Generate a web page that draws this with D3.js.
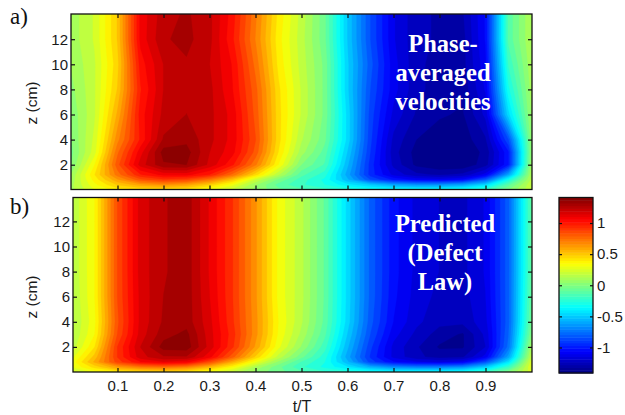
<!DOCTYPE html>
<html>
<head>
<meta charset="utf-8">
<script src="https://cdn.jsdelivr.net/npm/d3@7"></script>
<style>
html,body{margin:0;padding:0;background:#fff;}
svg{display:block;}
</style>
</head>
<body>
<div id="chart"></div>
<script>
// velocity fields, one row per z, one value per t
const tValues=[0,.05,.1,.15,.2,.25,.3,.35,.4,.45,.5,.55,.6,.65,.7,.75,.8,.85,.9,.95,1];
const zValues=[0,.4,.8,1.2,2,3,4,6,8,10,12,14];

const measured=[
  [.12,.28,.38,.42,.43,.40,.30,.18,.05,-.05,-.12,-.18,-.25,-.30,-.33,-.33,-.33,-.30,-.20,0,.20],
  [.12,.33,.50,.60,.65,.60,.48,.30,.08,-.10,-.20,-.28,-.40,-.50,-.60,-.65,-.65,-.60,-.45,-.10,.20],
  [.10,.38,.62,.82,.90,.86,.72,.50,.20,-.02,-.18,-.30,-.55,-.85,-1.0,-1.08,-1.10,-1.05,-.80,-.30,.16],
  [.08,.42,.74,.98,1.08,1.08,.98,.75,.45,.15,-.12,-.25,-.60,-.95,-1.15,-1.25,-1.28,-1.25,-1.10,-.60,.13],
  [0,.35,.82,1.16,1.33,1.34,1.18,1.0,.72,.35,0,-.15,-.55,-.95,-1.22,-1.36,-1.40,-1.40,-1.30,-1.0,.08],
  [-.02,.25,.76,1.10,1.37,1.37,1.20,1.08,.82,.42,.10,-.10,-.50,-.92,-1.24,-1.37,-1.40,-1.40,-1.32,-1.0,.05],
  [0,.23,.68,1.0,1.28,1.32,1.22,1.10,.85,.45,.15,-.05,-.45,-.90,-1.22,-1.34,-1.38,-1.38,-1.28,-.85,.05],
  [.02,.20,.58,1.02,1.22,1.27,1.22,1.10,.82,.45,.20,-.02,-.45,-.88,-1.15,-1.28,-1.33,-1.35,-1.18,-.45,.08],
  [.05,.20,.50,.98,1.20,1.25,1.22,1.06,.80,.44,.20,-.02,-.48,-.85,-1.10,-1.25,-1.30,-1.32,-1.12,-.30,.10],
  [.08,.20,.47,1.02,1.20,1.26,1.20,1.05,.75,.40,.18,-.02,-.48,-.82,-1.10,-1.25,-1.30,-1.30,-1.08,-.20,.12],
  [.10,.22,.50,1.08,1.26,1.29,1.22,1.0,.70,.38,.17,-.05,-.50,-.85,-1.12,-1.25,-1.28,-1.30,-1.05,-.12,.14],
  [.10,.22,.50,1.08,1.24,1.28,1.22,1.02,.72,.40,.18,-.05,-.50,-.85,-1.12,-1.25,-1.28,-1.28,-1.05,-.12,.14]
];

const predicted=[
  [.20,.30,.38,.42,.43,.40,.30,.18,.05,-.05,-.12,-.20,-.25,-.30,-.33,-.33,-.33,-.30,-.20,0,.25],
  [.28,.45,.62,.72,.75,.70,.55,.35,.12,-.05,-.20,-.30,-.42,-.58,-.68,-.72,-.72,-.68,-.50,-.20,.28],
  [.30,.58,.88,1.05,1.12,1.08,.85,.58,.30,.05,-.15,-.28,-.55,-.88,-1.05,-1.12,-1.15,-1.10,-.85,-.42,.25],
  [.25,.52,.92,1.17,1.26,1.26,1.08,.80,.48,.18,-.05,-.25,-.60,-.93,-1.15,-1.25,-1.30,-1.28,-1.10,-.60,.18],
  [.16,.42,.92,1.20,1.37,1.38,1.17,.93,.62,.30,.06,-.18,-.55,-.90,-1.15,-1.26,-1.35,-1.35,-1.20,-.75,.10],
  [.13,.35,.85,1.16,1.31,1.36,1.16,.95,.66,.34,.12,-.12,-.50,-.85,-1.10,-1.22,-1.30,-1.35,-1.18,-.78,0],
  [.12,.33,.83,1.15,1.28,1.31,1.15,.93,.66,.35,.15,-.09,-.46,-.82,-1.06,-1.18,-1.25,-1.25,-1.15,-.80,-.05],
  [.13,.35,.85,1.15,1.27,1.31,1.13,.92,.65,.33,.16,-.08,-.45,-.80,-1.04,-1.16,-1.22,-1.23,-1.13,-.80,-.08],
  [.14,.35,.85,1.16,1.26,1.31,1.12,.92,.65,.33,.16,-.08,-.45,-.80,-1.03,-1.15,-1.20,-1.22,-1.12,-.80,-.10],
  [.14,.35,.85,1.16,1.26,1.31,1.12,.92,.65,.33,.16,-.08,-.45,-.80,-1.03,-1.15,-1.20,-1.22,-1.12,-.80,-.10],
  [.14,.35,.85,1.16,1.26,1.31,1.12,.92,.65,.33,.16,-.08,-.45,-.80,-1.03,-1.15,-1.20,-1.22,-1.12,-.80,-.10],
  [.14,.35,.85,1.16,1.26,1.31,1.12,.92,.65,.33,.16,-.08,-.45,-.80,-1.03,-1.15,-1.20,-1.22,-1.12,-.80,-.10]
];

const tTicks=[.1,.2,.3,.4,.5,.6,.7,.8,.9];
const zTicks=[2,4,6,8,10,12];
const barTicks=[-1,-.5,0,.5,1];
const measuredLabel=["Phase-","averaged","velocities"];
const predictedLabel=["Predicted","(Defect","Law)"];

const sans="'Liberation Sans', Arial, sans-serif";
const serif="'Liberation Serif', 'Times New Roman', serif";
const W=625,H=415;
const vMin=-1.41,vMax=1.41;

// jet
const span=vMax-vMin;
const jet=d3.scaleLinear()
  .domain([0,.125,.375,.625,.875,1].map(s=>vMin+s*span))
  .range(["#00007f","#0000ff","#00ffff","#ffff00","#ff0000","#7f0000"])
  .clamp(true);

const svg=d3.select("#chart").append("svg")
  .attr("width",W).attr("height",H).attr("viewBox",`0 0 ${W} ${H}`);
const defs=svg.append("defs");

const x=d3.scaleLinear().domain([0,1]).range([71.5,531.5]);

function drawPanel(id,rows,box,zBase,opts){
  const y=d3.scaleLinear().domain([0,2]).range([zBase,zBase-25.1]);

  defs.append("clipPath").attr("id","clip-"+id).append("rect")
    .attr("x",box.left).attr("y",box.top)
    .attr("width",box.right-box.left).attr("height",box.bottom-box.top);

  // grid index -> plot position, grid point i sits at i+.5 in d3.contours
  const ix=d3.scaleLinear().domain(tValues.map((d,i)=>i+.5)).range(tValues.map(d=>x(d)));
  const iy=d3.scaleLinear().domain(zValues.map((d,i)=>i+.5)).range(zValues.map(d=>y(d)));
  const path=d3.geoPath(d3.geoTransform({
    point(a,b){this.stream.point(ix(a),iy(b));}
  }));

  const levels=d3.range(0,40).map(i=>vMin+i*span/40);
  const bands=d3.contours().size([tValues.length,zValues.length]).smooth(true)
    .thresholds(levels)(rows.flat());

  const field=svg.append("g").attr("clip-path",`url(#clip-${id})`)
    .append("g").style("filter","blur(0.45px)");
  field.append("rect")
    .attr("x",box.left-2).attr("y",box.top-2)
    .attr("width",box.right-box.left+4).attr("height",box.bottom-box.top+4)
    .attr("fill",jet(vMin));
  field.selectAll("path").data(bands).join("path")
    .attr("d",path)
    .attr("fill",d=>jet(d.value+span/80))
    .attr("stroke",d=>jet(d.value+span/80))
    .attr("stroke-width",.3);

  // frame and inward ticks on all four sides
  const sides=[
    {gen:d3.axisLeft(y).tickValues(zTicks).tickFormat(d=>String(d)),pos:`translate(${box.left},0)`,pad:3},
    {gen:d3.axisRight(y).tickValues(zTicks).tickFormat(""),pos:`translate(${box.right},0)`,pad:3},
    {gen:d3.axisTop(x).tickValues(tTicks).tickFormat(""),pos:`translate(0,${box.top})`,pad:3},
    {gen:d3.axisBottom(x).tickValues(tTicks).tickFormat(opts.xLabels?(d=>String(d)):""),pos:`translate(0,${box.bottom})`,pad:8}
  ];
  sides.forEach(s=>{
    svg.append("g").attr("transform",s.pos)
      .call(s.gen.tickSizeInner(-4).tickSizeOuter(0).tickPadding(s.pad))
      .call(a=>a.select(".domain").remove())
      .call(a=>a.selectAll("line").attr("stroke","#111").attr("stroke-width",1.2))
      .call(a=>a.selectAll("text").attr("fill","#1a1a1a").style("font-family",sans).style("font-size","15px"));
  });
  svg.append("rect")
    .attr("x",box.left).attr("y",box.top)
    .attr("width",box.right-box.left).attr("height",box.bottom-box.top)
    .attr("fill","none").attr("stroke","#111").attr("stroke-width",1.3);

  // z label
  svg.append("text")
    .attr("transform",`translate(37,${opts.zMid}) rotate(-90)`)
    .attr("text-anchor","middle").attr("fill","#1a1a1a")
    .style("font-family",sans).style("font-size","15.5px")
    .text("z (cm)");

  // panel letter
  svg.append("text").attr("x",10).attr("y",opts.letterY)
    .attr("fill","#111")
    .style("font-family",serif).style("font-size","23px")
    .text(opts.letter);

  // white caption in the plot
  svg.append("g").selectAll("text").data(opts.caption).join("text")
    .attr("x",opts.captionX)
    .attr("y",(d,i)=>opts.captionY+i*29)
    .attr("text-anchor","middle").attr("fill","#fff")
    .style("font-family",serif).style("font-size","24.5px").style("font-weight","700")
    .text(d=>d);
}

drawPanel("a",measured,{left:71,right:532,top:14,bottom:189.5},189.8,
  {xLabels:false,zMid:103,letter:"a)",letterY:24,caption:measuredLabel,captionX:443,captionY:52});
drawPanel("b",predicted,{left:73,right:532,top:197.5,bottom:372},372,
  {xLabels:true,zMid:297,letter:"b)",letterY:214,caption:predictedLabel,captionX:445,captionY:232});

svg.append("text").attr("x",302).attr("y",412)
  .attr("text-anchor","middle").attr("fill","#1a1a1a")
  .style("font-family",sans).style("font-size","16px")
  .text("t/T");

// colorbar
const bar={left:559,right:593,top:197.5,bottom:373};
const yBar=d3.scaleLinear().domain([vMin,vMax]).range([bar.bottom,bar.top]);
const barSteps=d3.range(64).map(i=>vMin+i*span/64);
svg.append("g").selectAll("rect").data(barSteps).join("rect")
  .attr("x",bar.left).attr("width",bar.right-bar.left)
  .attr("y",d=>yBar(d+span/64)).attr("height",d=>yBar(d)-yBar(d+span/64)+.5)
  .attr("fill",d=>jet(d+span/128));
[
  {gen:d3.axisRight(yBar).tickFormat(d=>String(d)),pos:bar.right},
  {gen:d3.axisLeft(yBar).tickFormat(""),pos:bar.left}
].forEach(s=>{
  svg.append("g").attr("transform",`translate(${s.pos},0)`)
    .call(s.gen.tickValues(barTicks).tickSizeInner(-3).tickSizeOuter(0).tickPadding(4))
    .call(a=>a.select(".domain").remove())
    .call(a=>a.selectAll("line").attr("stroke","#111").attr("stroke-width",1.2))
    .call(a=>a.selectAll("text").attr("fill","#1a1a1a").style("font-family",sans).style("font-size","15px"));
});
svg.append("rect")
  .attr("x",bar.left).attr("y",bar.top)
  .attr("width",bar.right-bar.left).attr("height",bar.bottom-bar.top)
  .attr("fill","none").attr("stroke","#111").attr("stroke-width",1.3);
</script>
</body>
</html>
